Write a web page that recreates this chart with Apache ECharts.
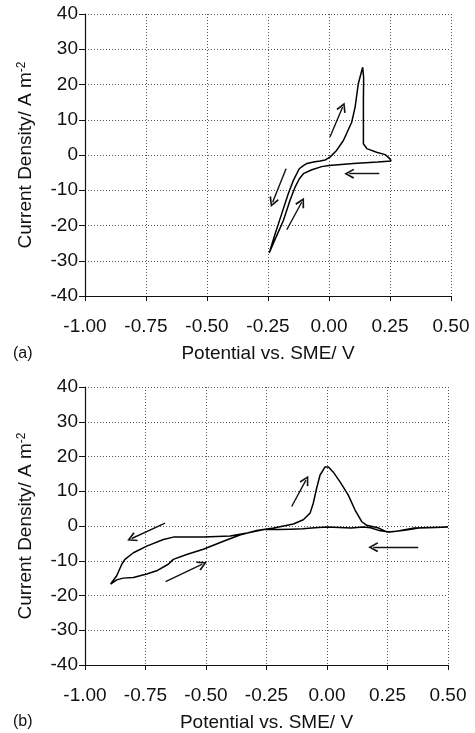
<!DOCTYPE html>
<html>
<head>
<meta charset="utf-8">
<script src="https://cdn.jsdelivr.net/npm/echarts@6/dist/echarts.min.js"></script>
<style>
  html, body { margin: 0; padding: 0; background: #fff; }
  #chart { width: 475px; height: 733px; }
</style>
</head>
<body>
<div id="chart"></div>
<script>
// panel (a): potential (V vs SME) and current density (A m-2)
const potA = [0.255, 0.25, 0.23, 0.195, 0.155, 0.141, 0.141, 0.142, 0.138, 0.134, 0.12, 0.107, 0.093, 0.059, 0.031, 0.004,
  -0.015, -0.037, -0.064, -0.09, -0.105, -0.122, -0.132, -0.146, -0.167, -0.194, -0.221, -0.245,
  -0.242, -0.215, -0.187, -0.16, -0.139, -0.122, -0.105, -0.07, -0.03, 0.0, 0.05, 0.1, 0.15, 0.2, 0.255];
const curA = [-1.7, -1.1, 0.1, 0.8, 1.8, 3.2, 15.5, 22.0, 24.9, 24.5, 20.2, 13.6, 9.3, 4.1, 1.3, -0.6,
  -1.4, -1.7, -2.0, -2.4, -3.0, -3.9, -5.3, -7.2, -11.0, -16.7, -22.4, -27.8,
  -27.6, -23.0, -18.6, -12.9, -9.1, -6.8, -5.3, -4.2, -3.3, -3.0, -2.7, -2.4, -2.2, -2.0, -1.7];

// panel (b)
const potB = [0.5, 0.45, 0.38, 0.32, 0.26, 0.22, 0.18, 0.15, 0.1, 0.05, 0.0, -0.05, -0.1, -0.15, -0.2, -0.26,
  -0.33, -0.4, -0.511, -0.635, -0.676, -0.745, -0.8, -0.835, -0.848, -0.869, -0.894,
  -0.869, -0.842, -0.8, -0.745, -0.704, -0.656, -0.635, -0.58, -0.511, -0.428, -0.36, -0.29, -0.22,
  -0.139, -0.098, -0.07, -0.057, -0.043, -0.029, -0.008, 0.006, 0.026, 0.054, 0.088, 0.116, 0.143, 0.164,
  0.21, 0.247, 0.288, 0.36, 0.43, 0.5];
const curB = [-0.3, -0.4, -0.6, -1.2, -1.7, -1.4, -0.5, -0.3, -0.6, -0.4, -0.3, -0.5, -0.8, -0.9, -1.0, -1.0,
  -2.0, -2.9, -3.2, -3.2, -3.9, -5.8, -7.7, -9.6, -11.0, -14.3, -16.7,
  -15.5, -15.0, -14.8, -13.8, -12.9, -11.0, -9.6, -8.2, -6.7, -4.4, -2.6, -1.3, -0.6,
  0.57, 1.8, 3.7, 6.5, 10.8, 14.6, 17.0, 17.0, 15.5, 12.7, 8.9, 4.6, 1.3, 0.2,
  -0.5, -1.7, -1.5, -0.6, -0.4, -0.3];

// sweep direction arrows: [fromV, fromI, toV, toI]
const arrowsA = [[0.004, 5.1, 0.056, 13.6], [0.206, -5.3, 0.083, -5.3], [-0.176, -3.9, -0.231, -13.4], [-0.173, -21.2, -0.112, -13.4]];
const arrowsB = [[-0.669, 0.85, -0.807, -3.6], [-0.667, -16.0, -0.515, -11.0], [-0.146, 5.6, -0.087, 13.2], [0.377, -6.1, 0.191, -6.1]];

const chart = echarts.init(document.getElementById('chart'));
const font = 'Liberation Sans, Arial, sans-serif';
const head = 'path://M5,0 L10,9 L8.6,10 L5,3.2 L1.4,10 L0,9 Z';

function xAxisFor(i) {
  return {
    type: 'value', gridIndex: i, min: -1, max: 0.5, interval: 0.25,
    name: 'Potential vs. SME/ V', nameLocation: 'middle', nameGap: 48,
    nameTextStyle: { color: '#111', fontSize: 19, fontFamily: font },
    axisLine: { onZero: false, lineStyle: { color: '#111', width: 1.2 } },
    axisTick: { show: true, length: 5, lineStyle: { color: '#111' } },
    axisLabel: { color: '#111', fontSize: 19, fontFamily: font, margin: 21,
      formatter: v => v.toFixed(2) },
    splitLine: { show: true, lineStyle: { color: '#555', type: [1, 2], width: 1 } }
  };
}
function yAxisFor(i) {
  return {
    type: 'value', gridIndex: i, min: -40, max: 40, interval: 10,
    name: 'Current Density/ A m{sup|-2}', nameLocation: 'middle', nameGap: 49,
    nameTextStyle: { color: '#111', fontSize: 19, fontFamily: font,
      rich: { sup: { fontSize: 12, fontFamily: font, color: '#111', verticalAlign: 'top', padding: [0, 0, 8, 0] } } },
    axisLine: { onZero: false, lineStyle: { color: '#111', width: 1.2 } },
    axisTick: { show: true, length: 6, lineStyle: { color: '#111' } },
    axisLabel: { color: '#111', fontSize: 19, fontFamily: font, margin: 7 },
    splitLine: { show: true, lineStyle: { color: '#555', type: [1, 2], width: 1 } }
  };
}
function arrowLines(list) {
  return {
    silent: true, symbol: ['none', head], symbolSize: [10, 10],
    label: { show: false },
    lineStyle: { color: '#111', type: 'solid', width: 1.4 },
    data: list.map(a => [{ coord: [a[0], a[1]] }, { coord: [a[2], a[3]] }])
  };
}

chart.setOption({
  backgroundColor: '#fff',
  animation: false,
  title: [
    { text: '(a)', left: 8, top: 341, textStyle: { fontSize: 16, fontWeight: 'normal', color: '#111', fontFamily: font } },
    { text: '(b)', left: 8, top: 709, textStyle: { fontSize: 16, fontWeight: 'normal', color: '#111', fontFamily: font } }
  ],
  grid: [
    { left: 85, right: 24, top: 14, height: 282 },
    { left: 85, right: 27, top: 387, height: 282 }
  ],
  xAxis: [xAxisFor(0), xAxisFor(1)],
  yAxis: [yAxisFor(0), yAxisFor(1)],
  series: [
    { type: 'line', xAxisIndex: 0, yAxisIndex: 0, showSymbol: false,
      lineStyle: { color: '#000', width: 1.5 },
      data: potA.map((v, k) => [v, curA[k]]),
      markLine: arrowLines(arrowsA) },
    { type: 'line', xAxisIndex: 1, yAxisIndex: 1, showSymbol: false,
      lineStyle: { color: '#000', width: 1.5 },
      data: potB.map((v, k) => [v, curB[k]]),
      markLine: arrowLines(arrowsB) }
  ]
});
</script>
</body>
</html>
